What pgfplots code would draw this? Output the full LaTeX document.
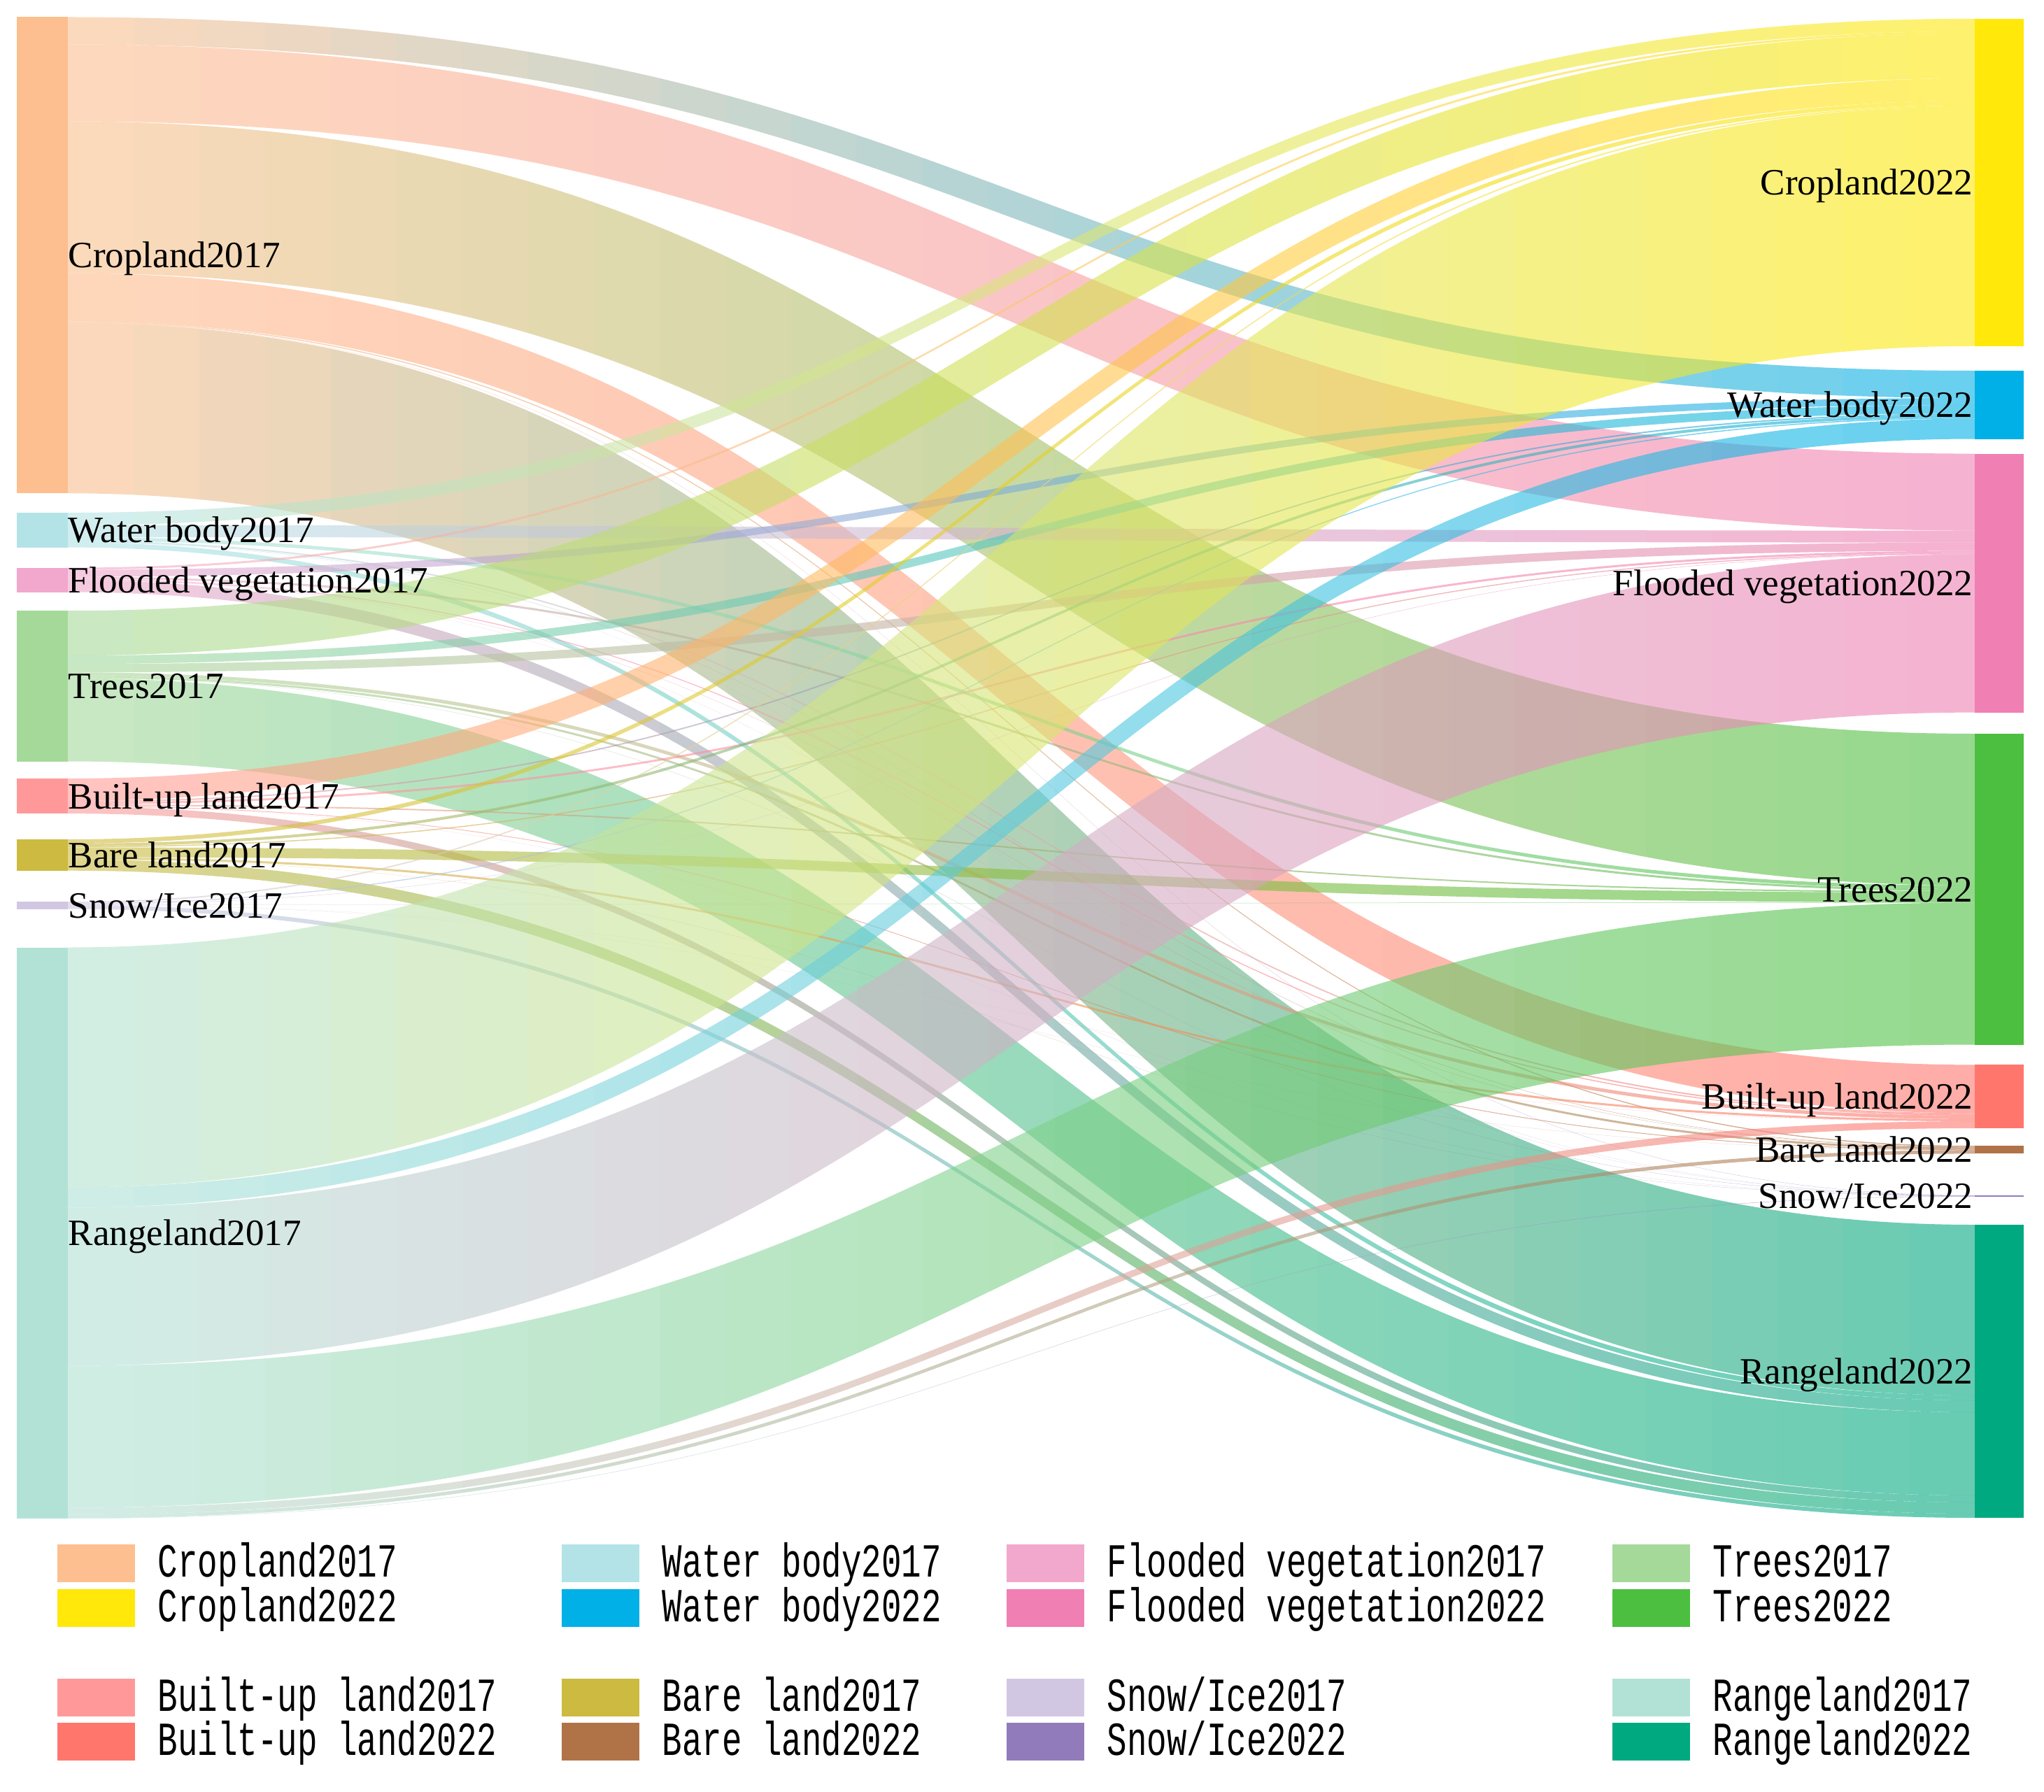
\documentclass[border=0pt]{standalone}
\usepackage{pgfplots}
\pgfplotsset{compat=1.18}
\usepackage{pgfplotstable}
\usepackage{fontspec}
\setmainfont{Liberation Serif}
\newfontfamily\legfont[FakeStretch=0.7]{Liberation Mono}

% 2017 (left) and 2022 (right) node colours
\definecolor{n0}{HTML}{FDBF8F}
\definecolor{n1}{HTML}{B3E3E7}
\definecolor{n2}{HTML}{F2A7CC}
\definecolor{n3}{HTML}{A5D99A}
\definecolor{n4}{HTML}{FF9999}
\definecolor{n5}{HTML}{CDBA40}
\definecolor{n6}{HTML}{D2C7E3}
\definecolor{n7}{HTML}{B2E2D5}
\definecolor{m0}{HTML}{FFE80A}
\definecolor{m1}{HTML}{00B0E6}
\definecolor{m2}{HTML}{F07FB3}
\definecolor{m3}{HTML}{4CBF40}
\definecolor{m4}{HTML}{FF766D}
\definecolor{m5}{HTML}{B07348}
\definecolor{m6}{HTML}{927BBA}
\definecolor{m7}{HTML}{00A980}

\expandafter\def\csname nm0\endcsname{Cropland}
\expandafter\def\csname nm1\endcsname{Water body}
\expandafter\def\csname nm2\endcsname{Flooded vegetation}
\expandafter\def\csname nm3\endcsname{Trees}
\expandafter\def\csname nm4\endcsname{Built-up land}
\expandafter\def\csname nm5\endcsname{Bare land}
\expandafter\def\csname nm6\endcsname{Snow/Ice}
\expandafter\def\csname nm7\endcsname{Rangeland}

% top of each node bar (left = 2017, right = 2022)
\pgfplotstableread{
id ltop rtop
0 24.5 26.8
1 733 530
2 811.6 648.6
3 873.2 1049
4 1113 1522.4
5 1200 1638
6 1289 1709
7 1354.5 1751
}\nodetab

% land transfer 2017 -> 2022 (band widths)
\pgfplotstableread{
src tgt val
0 1 39
0 2 110
0 3 217
0 4 69
0 5 1.5
0 6 0.3
0 7 244
1 0 18
1 2 17
1 3 5
1 4 2
1 5 0.5
1 6 0.1
1 7 7
2 0 3
2 1 10
2 3 3
2 4 1.5
2 5 0.3
2 6 0.1
2 7 17
3 0 64
3 1 12
3 2 12
3 4 5
3 5 3
3 6 0.3
3 7 119
4 0 32
4 1 2
4 2 3
4 3 2
4 5 1
4 6 0.1
4 7 10
5 0 6
5 1 4
5 2 1.5
5 3 14
5 4 3
5 6 0.2
5 7 16
6 0 2
6 1 1.5
6 2 0.5
6 3 0.5
6 4 0.1
6 5 0.1
6 7 6
7 0 343
7 1 29
7 2 226
7 3 203
7 4 10
7 5 5
7 6 0.5
}\flowtab

\newcommand\legitem[4]{%
  \fill[#3] (axis cs:#1,#2) rectangle (axis cs:#1+111,#2+54);
  \node[anchor=base west, inner sep=0pt, font=\legfont\fontsize{19.3}{22}\selectfont]
    at (axis cs:#1+143,#2+46.5) {#4};
}

\begin{document}
\begin{tikzpicture}
% running offsets start at node tops
\pgfplotsinvokeforeach{0,...,7}{%
  \pgfplotstablegetelem{#1}{ltop}\of\nodetab
  \expandafter\xdef\csname so#1\endcsname{\pgfplotsretval}%
  \expandafter\xdef\csname lt#1\endcsname{\pgfplotsretval}%
  \pgfplotstablegetelem{#1}{rtop}\of\nodetab
  \expandafter\xdef\csname to#1\endcsname{\pgfplotsretval}%
  \expandafter\xdef\csname rt#1\endcsname{\pgfplotsretval}%
}
\pgfplotstablegetrowsof{\flowtab}
\pgfmathtruncatemacro\nflows{\pgfplotsretval-1}
\foreach \k in {0,...,\nflows}{%
  \pgfplotstablegetelem{\k}{src}\of\flowtab \edef\fsrc{\pgfplotsretval}%
  \pgfplotstablegetelem{\k}{tgt}\of\flowtab \edef\ftgt{\pgfplotsretval}%
  \pgfplotstablegetelem{\k}{val}\of\flowtab \edef\fval{\pgfplotsretval}%
  \edef\ya{\csname so\fsrc\endcsname}%
  \edef\yb{\csname to\ftgt\endcsname}%
  \pgfmathsetmacro\yc{\ya+\fval}%
  \pgfmathsetmacro\yd{\yb+\fval}%
  \expandafter\xdef\csname so\fsrc\endcsname{\yc}%
  \expandafter\xdef\csname to\ftgt\endcsname{\yd}%
  \expandafter\xdef\csname fa\k\endcsname{\ya}%
  \expandafter\xdef\csname fb\k\endcsname{\yb}%
  \expandafter\xdef\csname fc\k\endcsname{\yc}%
  \expandafter\xdef\csname fd\k\endcsname{\yd}%
  \expandafter\xdef\csname fs\k\endcsname{\fsrc}%
  \expandafter\xdef\csname ft\k\endcsname{\ftgt}%
}
% label baselines
\pgfplotsinvokeforeach{0,...,7}{%
  \edef\pa{\csname lt#1\endcsname}\edef\pb{\csname so#1\endcsname}%
  \pgfmathsetmacro\pc{(\pa+\pb)/2+18}%
  \expandafter\xdef\csname lm#1\endcsname{\pc}%
  \edef\pa{\csname rt#1\endcsname}\edef\pb{\csname to#1\endcsname}%
  \pgfmathsetmacro\pc{(\pa+\pb)/2+18}%
  \expandafter\xdef\csname rm#1\endcsname{\pc}%
}
\begin{axis}[hide axis, scale only axis, width=292.2mm, height=256.1mm,
  xmin=0, xmax=2922, ymin=0, ymax=2561, y dir=reverse, clip=false]
\path (axis cs:0,0) rectangle (axis cs:2922,2561);
% bands: clipped to the ribbon, coloured from source to target in 29 strips
\pgfplotsextra{%
  \foreach \k in {0,...,\nflows}{%
    \edef\bs{\csname fs\k\endcsname}\edef\bt{\csname ft\k\endcsname}%
    \edef\ya{\csname fa\k\endcsname}\edef\yb{\csname fb\k\endcsname}%
    \edef\yc{\csname fc\k\endcsname}\edef\yd{\csname fd\k\endcsname}%
    \begin{scope}
      \clip (axis cs:97,\ya) .. controls (axis cs:1460,\ya) and (axis cs:1460,\yb)
        .. (axis cs:2823,\yb) -- (axis cs:2823,\yd)
        .. controls (axis cs:1460,\yd) and (axis cs:1460,\yc) .. (axis cs:97,\yc) -- cycle;
      \foreach \s in {0,...,28}{%
        \pgfmathtruncatemacro\pct{round(100*(\s+0.5)/29)}%
        \pgfmathtruncatemacro\xa{97+94*\s}%
        \pgfmathtruncatemacro\xb{97+94*(\s+1)}%
        \colorlet{slc}{m\bt!\pct!n\bs}%
        \fill[slc, fill opacity=0.6] (axis cs:\xa,0) rectangle (axis cs:\xb,2561);
      }
    \end{scope}
  }
}
% node bars and labels
\pgfplotsinvokeforeach{0,...,7}{%
  \edef\tmp{\noexpand\fill[n#1] (axis cs:24,\csname lt#1\endcsname) rectangle (axis cs:97,\csname so#1\endcsname);
    \noexpand\fill[m#1] (axis cs:2823,\csname rt#1\endcsname) rectangle (axis cs:2893,\csname to#1\endcsname);}%
  \tmp
  \edef\tmp{\noexpand\node[anchor=base west, inner sep=0pt, font=\noexpand\fontsize{15.1}{18}\noexpand\selectfont]
      at (axis cs:97,\csname lm#1\endcsname) {\csname nm#1\endcsname2017};
    \noexpand\node[anchor=base east, inner sep=0pt, font=\noexpand\fontsize{15.1}{18}\noexpand\selectfont]
      at (axis cs:2821,\csname rm#1\endcsname) {\csname nm#1\endcsname2022};}%
  \tmp
}
% legend
\legitem{82}{2208}{n0}{Cropland2017}
\legitem{82}{2272}{m0}{Cropland2022}
\legitem{803}{2208}{n1}{Water body2017}
\legitem{803}{2272}{m1}{Water body2022}
\legitem{1439}{2208}{n2}{Flooded vegetation2017}
\legitem{1439}{2272}{m2}{Flooded vegetation2022}
\legitem{2305}{2208}{n3}{Trees2017}
\legitem{2305}{2272}{m3}{Trees2022}
\legitem{82}{2400}{n4}{Built-up land2017}
\legitem{82}{2463}{m4}{Built-up land2022}
\legitem{803}{2400}{n5}{Bare land2017}
\legitem{803}{2463}{m5}{Bare land2022}
\legitem{1439}{2400}{n6}{Snow/Ice2017}
\legitem{1439}{2463}{m6}{Snow/Ice2022}
\legitem{2305}{2400}{n7}{Rangeland2017}
\legitem{2305}{2463}{m7}{Rangeland2022}
\end{axis}
\end{tikzpicture}
\end{document}
